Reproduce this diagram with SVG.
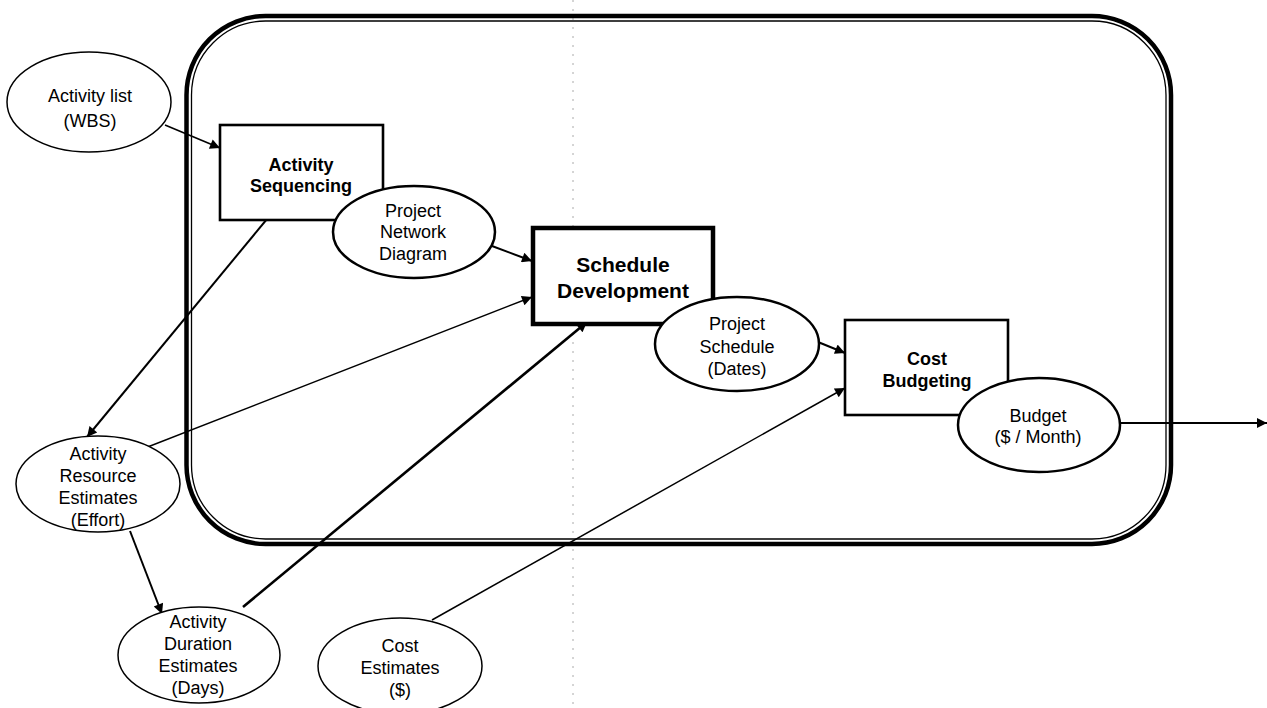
<svg xmlns="http://www.w3.org/2000/svg" width="1267" height="708" viewBox="0 0 1267 708">
  <style>
    .t { font-family: "Liberation Sans", Arial, sans-serif; font-size: 18px; fill: #000; text-anchor: middle; }
    .b { font-family: "Liberation Sans", Arial, sans-serif; font-size: 18px; font-weight: bold; fill: #000; text-anchor: middle; }
    .big { font-size: 21px; }
    .ell { fill: #fff; stroke: #000; }
    .box { fill: #fff; stroke: #000; }
    .conn { fill: none; stroke: #000; marker-end: url(#arrow); }
    .frame { fill: none; stroke: #000; }
  </style>
  <defs>
    <marker id="arrow" viewBox="0 0 10 10" refX="10" refY="5" markerWidth="12" markerHeight="10" markerUnits="userSpaceOnUse" orient="auto">
      <path d="M0,0 L10,5 L0,10 z" fill="#000"/>
    </marker>
  </defs>

  <rect width="1267" height="708" fill="#fff"/>

  <!-- faint fold line across the sheet -->
  <line x1="573" y1="0" x2="573" y2="708" stroke="#aaa" stroke-width="1" stroke-dasharray="2 7"/>

  <!-- process boundary: heavy outer line with a thin inner line -->
  <g id="boundary">
    <rect class="frame" x="186.5" y="16" width="984.5" height="528" rx="79" ry="79" stroke-width="4.5"/>
    <rect class="frame" x="191.5" y="21" width="974.5" height="518" rx="74" ry="74" stroke-width="1.3"/>
  </g>

  <!-- connectors -->
  <g id="connectors">
    <line class="conn" x1="165" y1="125" x2="220" y2="148" stroke-width="1.6"/>
    <line class="conn" x1="267" y1="219" x2="87" y2="437" stroke-width="2"/>
    <line class="conn" x1="145" y1="448" x2="532" y2="297" stroke-width="1.4"/>
    <line class="conn" x1="130" y1="531" x2="162" y2="614" stroke-width="2"/>
    <line class="conn" x1="243" y1="607" x2="587" y2="322" stroke-width="2.6"/>
    <line class="conn" x1="432" y1="620" x2="845" y2="388" stroke-width="1.5"/>
    <line class="conn" x1="492" y1="246" x2="532" y2="261" stroke-width="2"/>
    <line class="conn" x1="818" y1="342" x2="845" y2="353" stroke-width="2"/>
    <line class="conn" x1="1120" y1="423" x2="1267" y2="423" stroke-width="2"/>
  </g>

  <g id="activity-list">
    <ellipse class="ell" cx="89" cy="102" rx="82" ry="50" stroke-width="1.5"/>
    <text class="t" x="90" y="102">Activity list</text>
    <text class="t" x="90" y="127">(WBS)</text>
  </g>

  <g id="activity-sequencing">
    <rect class="box" x="220" y="125" width="163" height="95" stroke-width="2.6"/>
    <text class="b" x="301" y="171">Activity</text>
    <text class="b" x="301" y="192">Sequencing</text>
  </g>

  <g id="project-network-diagram">
    <ellipse class="ell" cx="414" cy="232" rx="81" ry="46" stroke-width="2.5"/>
    <text class="t" x="413" y="217">Project</text>
    <text class="t" x="413" y="238">Network</text>
    <text class="t" x="413" y="260">Diagram</text>
  </g>

  <g id="schedule-development">
    <rect class="box" x="533" y="228" width="180" height="96" stroke-width="4.5"/>
    <text class="b big" x="623" y="272">Schedule</text>
    <text class="b big" x="623" y="298">Development</text>
  </g>

  <g id="project-schedule">
    <ellipse class="ell" cx="737" cy="344" rx="82" ry="47" stroke-width="2.5"/>
    <text class="t" x="737" y="330">Project</text>
    <text class="t" x="737" y="353">Schedule</text>
    <text class="t" x="737" y="375">(Dates)</text>
  </g>

  <g id="cost-budgeting">
    <rect class="box" x="845" y="320" width="163" height="95" stroke-width="2.6"/>
    <text class="b" x="927" y="365">Cost</text>
    <text class="b" x="927" y="387">Budgeting</text>
  </g>

  <g id="budget">
    <ellipse class="ell" cx="1039" cy="425" rx="81" ry="47" stroke-width="2.5"/>
    <text class="t" x="1038" y="422">Budget</text>
    <text class="t" x="1038" y="443">($ / Month)</text>
  </g>

  <g id="activity-resource-estimates">
    <ellipse class="ell" cx="98" cy="484" rx="82" ry="48" stroke-width="1.5"/>
    <text class="t" x="98" y="460">Activity</text>
    <text class="t" x="98" y="482">Resource</text>
    <text class="t" x="98" y="504">Estimates</text>
    <text class="t" x="98" y="526">(Effort)</text>
  </g>

  <g id="activity-duration-estimates">
    <ellipse class="ell" cx="199" cy="655" rx="81" ry="48" stroke-width="1.5"/>
    <text class="t" x="198" y="628">Activity</text>
    <text class="t" x="198" y="650">Duration</text>
    <text class="t" x="198" y="672">Estimates</text>
    <text class="t" x="198" y="694">(Days)</text>
  </g>

  <g id="cost-estimates">
    <ellipse class="ell" cx="400" cy="666" rx="82" ry="48" stroke-width="1.5"/>
    <text class="t" x="400" y="652">Cost</text>
    <text class="t" x="400" y="674">Estimates</text>
    <text class="t" x="400" y="696">($)</text>
  </g>
</svg>
